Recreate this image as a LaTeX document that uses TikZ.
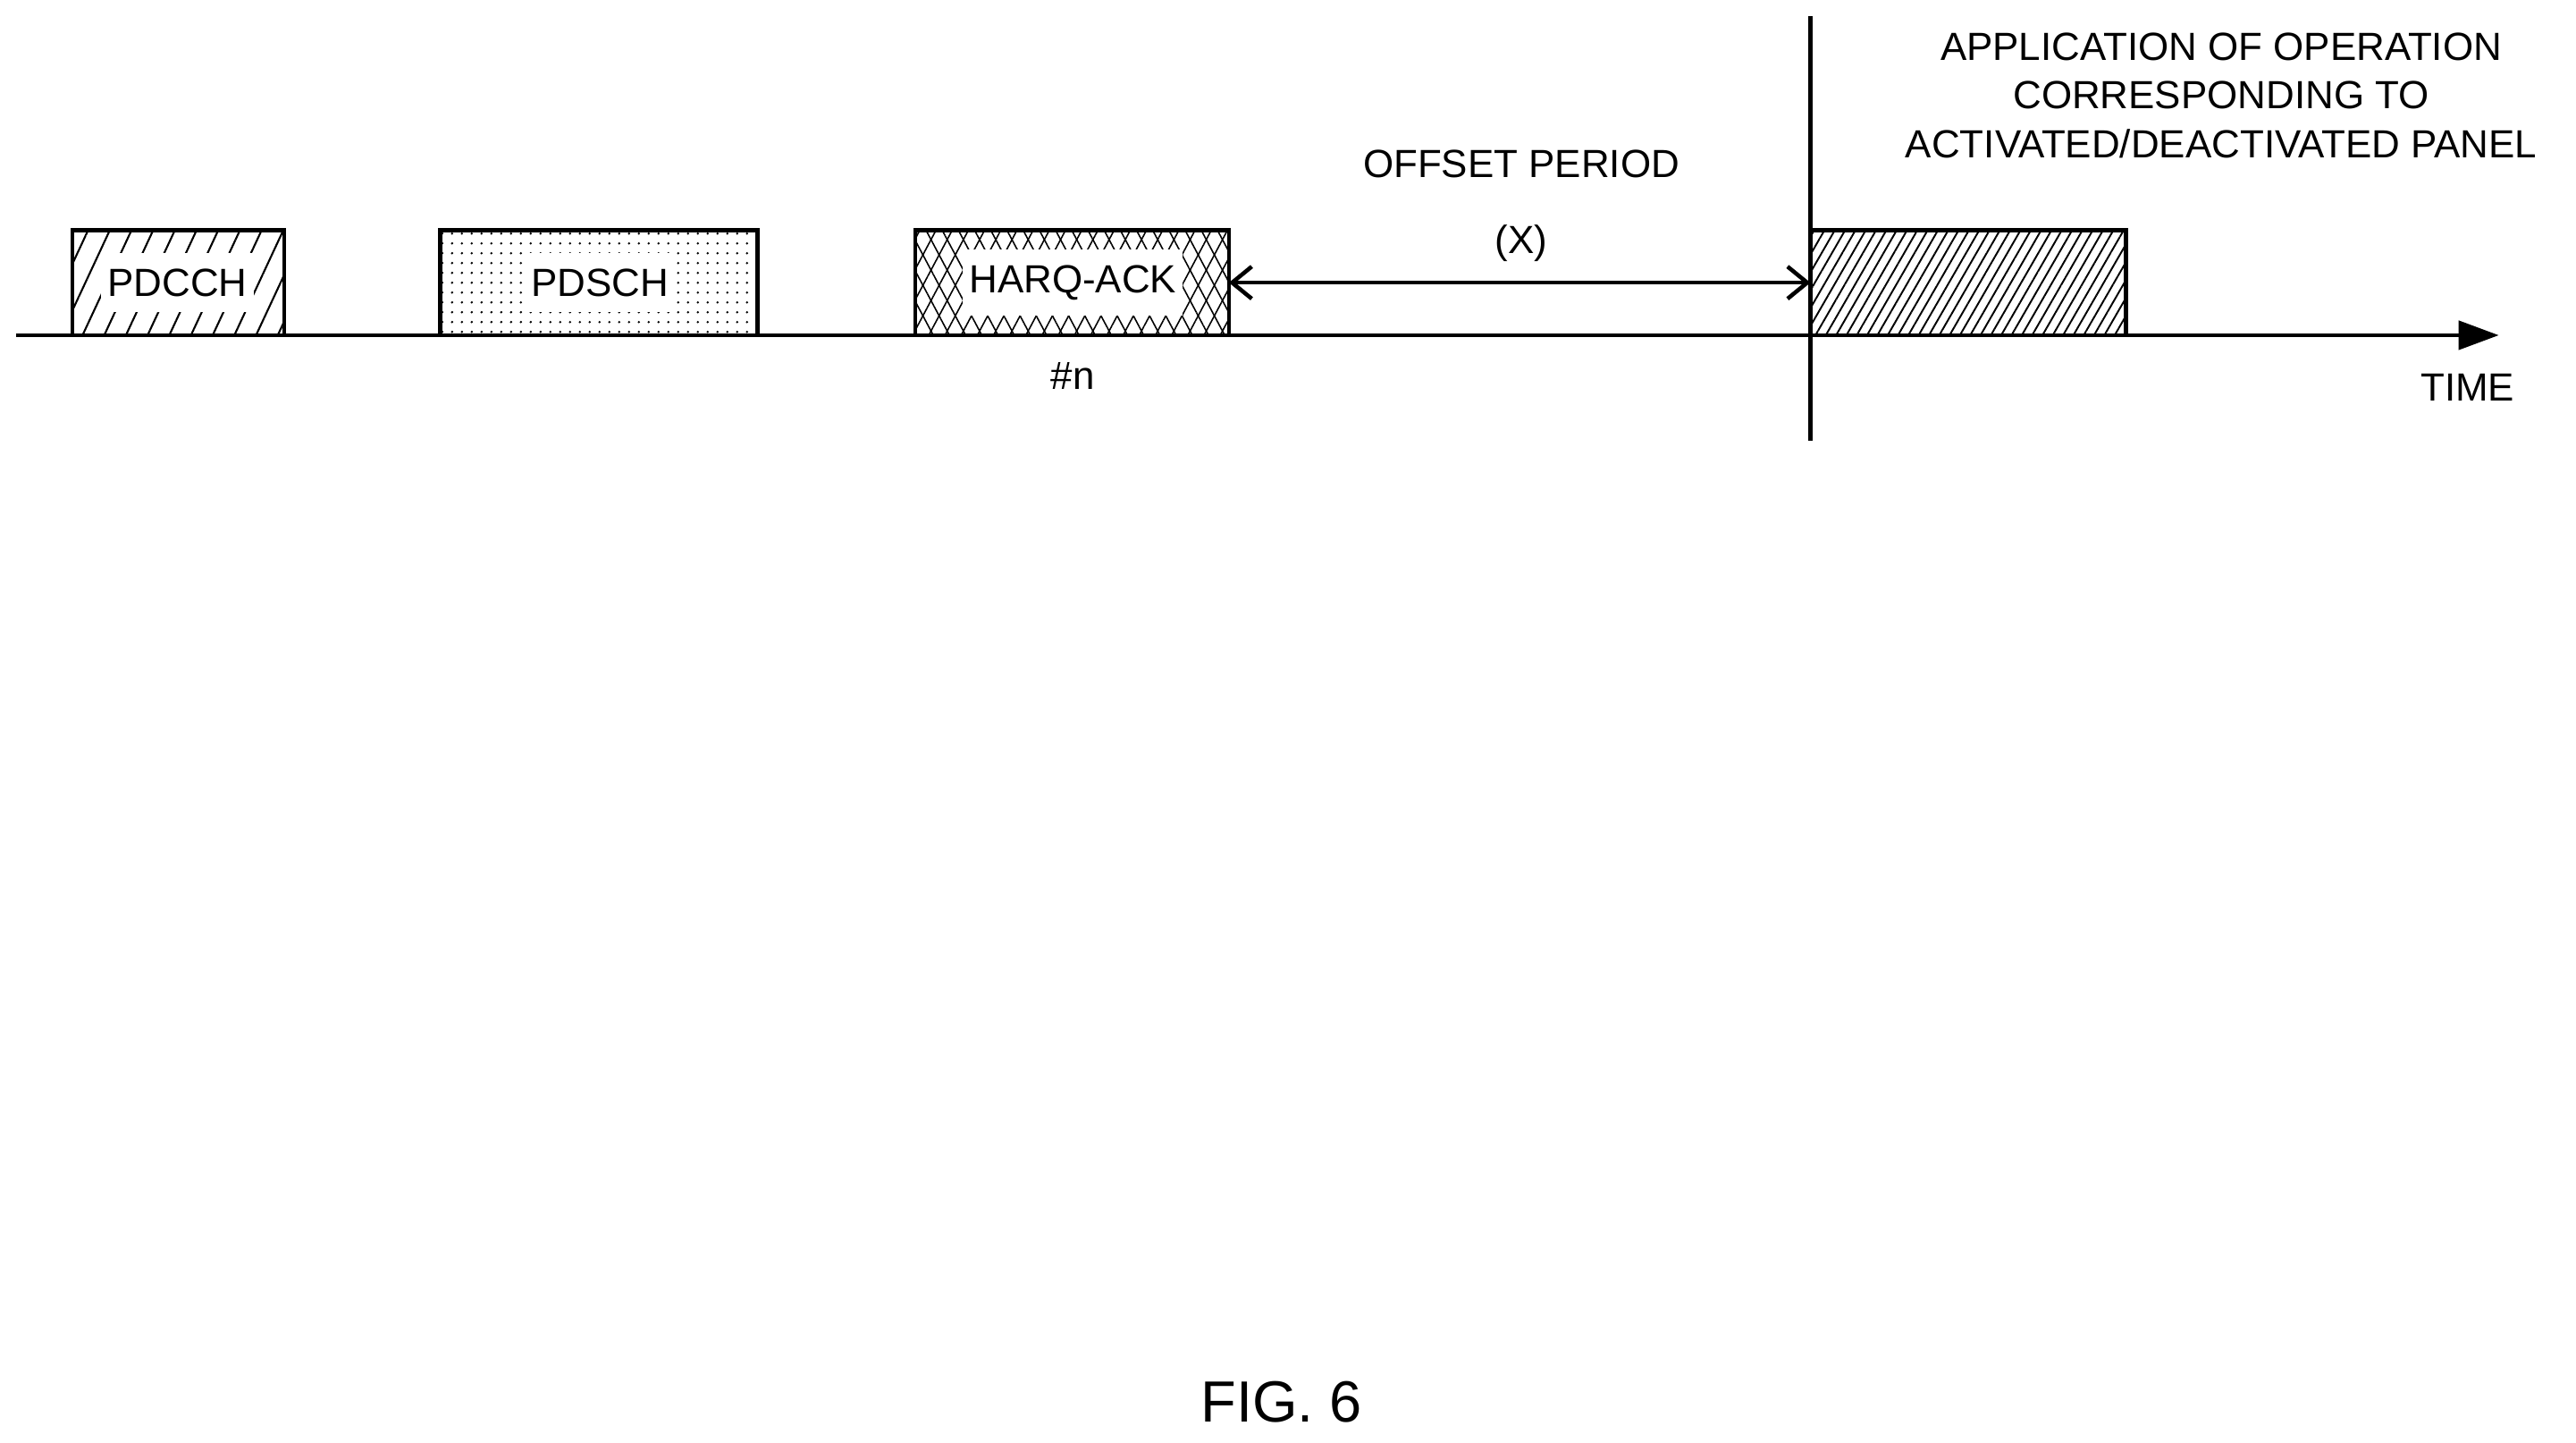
\documentclass[tikz,border=0pt]{standalone}
\usepackage{fontspec}
\setmainfont{Liberation Sans}
\usetikzlibrary{patterns.meta,arrows.meta}
\tikzset{
  lbl/.style={font=\fontsize{12.5}{15.5}\selectfont, align=center, inner sep=1pt},
  slot/.style={draw, line width=1.3pt},
  boxtext/.style={lbl, fill=white, inner xsep=2pt, inner ysep=5pt}
}
\begin{document}
\begin{tikzpicture}[x=0.01838cm, y=-0.01838cm]
  \useasboundingbox (0,0) rectangle (1568,878);
  % slots on the time axis
  \fill[pattern={Lines[angle=65,distance=2.2mm,line width=0.6pt]}] (44,140) rectangle (173,204);
  \fill[pattern={Dots[distance=1.1mm,radius=0.4pt]}] (268,140) rectangle (461,204);
  \fill[pattern={Lines[angle=62,distance=1.6mm,line width=0.45pt]}] (557,140) rectangle (748,204);
  \fill[pattern={Lines[angle=118,distance=1.6mm,line width=0.45pt]}] (557,140) rectangle (748,204);
  \fill[pattern={Lines[angle=60,distance=1mm,line width=0.55pt]}] (1102,140) rectangle (1294,204);
  \draw[slot] (44,204) |- (173,140) -- (173,204);
  \draw[slot] (268,204) |- (461,140) -- (461,204);
  \draw[slot] (557,204) |- (748,140) -- (748,204);
  \draw[slot] (1102,140) -- (1294,140) -- (1294,204);
  \node[boxtext] (pdcch) at (108,172) {PDCCH};
  \node[boxtext] (pdsch) at (365,172) {PDSCH};
  \node[boxtext] (harq) at (653,172) {HARQ-ACK};
  % axis
  \coordinate (t0) at (10,204);
  \coordinate (t1) at (1521,204);
  \draw[line width=1.3pt, -{Triangle[length=4.5mm,width=3.2mm]}] (t0) -- (t1);
  \coordinate (v0) at (1102,10);
  \coordinate (v1) at (1102,268);
  \draw[line width=1.3pt] (v0) -- (v1);
  \coordinate (ofs0) at (748,172);
  \coordinate (ofs1) at (1102,172);
  \draw[line width=1.3pt, {Straight Barb[length=2.2mm,width=3.6mm]}-{Straight Barb[length=2.2mm,width=3.6mm]}] (ofs0) -- (ofs1);
  % labels
  \node[lbl] (offset) at (926,100) {OFFSET PERIOD};
  \node[lbl] (x) at (926,148) {(X)};
  \node[lbl] (n) at (653,229) {\#n};
  \node[lbl] (time) at (1502,236) {TIME};
  \node[lbl] (apply) at (1352,58) {APPLICATION OF OPERATION\\CORRESPONDING TO\\ACTIVATED/DEACTIVATED PANEL};
  \node[font=\fontsize{18.5}{22}\selectfont] (fig) at (780,853) {FIG. 6};
\end{tikzpicture}
\end{document}
